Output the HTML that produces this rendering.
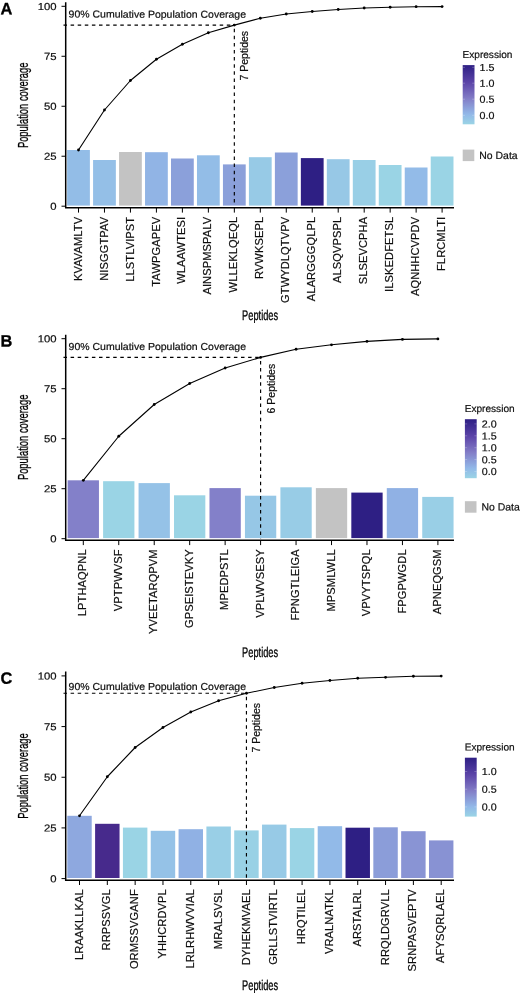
<!DOCTYPE html>
<html lang="en">
<head>
<meta charset="utf-8">
<title>Population coverage of peptides</title>
<style>
html,body{margin:0;padding:0;background:#fff;}
body{width:520px;height:993px;overflow:hidden;}
svg{display:block;}
svg text{font-family:"Liberation Sans",Arial,Helvetica,sans-serif;fill:#0d0d0d;stroke:#0d0d0d;stroke-width:0.2px;}
.tl{font-size:10.1px;}
.xl{font-size:11.1px;letter-spacing:0.1px;}
.an{font-size:10.1px;}
.at{font-size:14px;fill:#000;stroke:#000;stroke-width:0.3px;}
.pl{font-size:16.4px;font-weight:bold;fill:#000;stroke:#000;stroke-width:0.3px;stroke-linejoin:round;}
.lt{font-size:10.1px;}
.ll{font-size:10.2px;}
.nd{font-size:10.45px;}
.axis{fill:none;stroke:#000;stroke-width:1.5;}
.tick{fill:none;stroke:#000;stroke-width:1;}
.dash{fill:none;stroke:#000;stroke-width:1.15;stroke-dasharray:3.5 3.6;}
</style>
</head>
<body>
<svg width="520" height="993" viewBox="0 0 520 993" role="img" aria-label="Population coverage of peptides">
<defs><linearGradient id="cb" x1="0" y1="1" x2="0" y2="0">
<stop offset="0" stop-color="#9ad4e5"/>
<stop offset="0.17" stop-color="#92b8e8"/>
<stop offset="0.44" stop-color="#827cc6"/>
<stop offset="0.71" stop-color="#5b44a8"/>
<stop offset="1" stop-color="#2e1f84"/>
</linearGradient></defs>
<rect x="0" y="0" width="520" height="993" fill="#ffffff"/>
<g class="panel">
<rect x="67.11" y="150.00" width="22.77" height="55.60" fill="#93bde7"/>
<rect x="93.08" y="160.00" width="22.77" height="45.60" fill="#94bfe7"/>
<rect x="119.06" y="152.00" width="22.77" height="53.60" fill="#c3c3c3"/>
<rect x="145.03" y="152.20" width="22.77" height="53.40" fill="#91b4e5"/>
<rect x="171.00" y="158.50" width="22.77" height="47.10" fill="#8ba0da"/>
<rect x="196.97" y="155.30" width="22.77" height="50.30" fill="#93bde7"/>
<rect x="222.94" y="164.40" width="22.77" height="41.20" fill="#8ba0da"/>
<rect x="248.91" y="157.20" width="22.77" height="48.40" fill="#97cae6"/>
<rect x="274.88" y="152.50" width="22.77" height="53.10" fill="#8ba0da"/>
<rect x="300.86" y="158.10" width="22.77" height="47.50" fill="#2e1f84"/>
<rect x="326.83" y="159.20" width="22.77" height="46.40" fill="#97c8e6"/>
<rect x="352.80" y="160.00" width="22.77" height="45.60" fill="#99cfe6"/>
<rect x="378.77" y="165.00" width="22.77" height="40.60" fill="#9ad4e5"/>
<rect x="404.74" y="167.50" width="22.77" height="38.10" fill="#93bbe8"/>
<rect x="430.71" y="156.50" width="22.77" height="49.10" fill="#9ad4e5"/>
<path d="M63.5 25.10 H234.33" class="dash"/>
<path d="M234.33 25.10 V206.20" class="dash" stroke-dashoffset="3.5"/>
<polyline points="78.50,150.00 104.47,110.00 130.44,80.50 156.41,59.25 182.39,44.25 208.36,32.75 234.33,25.10 260.30,18.25 286.27,14.00 312.24,11.50 338.21,9.50 364.19,8.00 390.16,7.25 416.13,6.70 442.10,6.60" fill="none" stroke="#000" stroke-width="1.1" stroke-linejoin="round"/>
<circle cx="78.50" cy="150.00" r="1.4" fill="#000"/>
<circle cx="104.47" cy="110.00" r="1.4" fill="#000"/>
<circle cx="130.44" cy="80.50" r="1.4" fill="#000"/>
<circle cx="156.41" cy="59.25" r="1.4" fill="#000"/>
<circle cx="182.39" cy="44.25" r="1.4" fill="#000"/>
<circle cx="208.36" cy="32.75" r="1.4" fill="#000"/>
<circle cx="234.33" cy="25.10" r="1.4" fill="#000"/>
<circle cx="260.30" cy="18.25" r="1.4" fill="#000"/>
<circle cx="286.27" cy="14.00" r="1.4" fill="#000"/>
<circle cx="312.24" cy="11.50" r="1.4" fill="#000"/>
<circle cx="338.21" cy="9.50" r="1.4" fill="#000"/>
<circle cx="364.19" cy="8.00" r="1.4" fill="#000"/>
<circle cx="390.16" cy="7.25" r="1.4" fill="#000"/>
<circle cx="416.13" cy="6.70" r="1.4" fill="#000"/>
<circle cx="442.10" cy="6.60" r="1.4" fill="#000"/>
<path d="M65.7 2.30 V207.80 H454.00" class="axis"/>
<path d="M61.5 206.20 H66" class="tick"/>
<text transform="translate(56.6 209.80) rotate(0.03) scale(1.12 1)" text-anchor="end" class="tl">0</text>
<path d="M61.5 156.22 H66" class="tick"/>
<text transform="translate(56.6 159.82) rotate(0.03) scale(1.12 1)" text-anchor="end" class="tl">25</text>
<path d="M61.5 106.25 H66" class="tick"/>
<text transform="translate(56.6 109.85) rotate(0.03) scale(1.12 1)" text-anchor="end" class="tl">50</text>
<path d="M61.5 56.28 H66" class="tick"/>
<text transform="translate(56.6 59.88) rotate(0.03) scale(1.12 1)" text-anchor="end" class="tl">75</text>
<path d="M61.5 6.30 H66" class="tick"/>
<text transform="translate(56.6 9.90) rotate(0.03) scale(1.12 1)" text-anchor="end" class="tl">100</text>
<path d="M78.50 207.80 V212.60" class="tick"/>
<text transform="translate(81.60 216.80) rotate(-90)" text-anchor="end" class="xl">KVAVAMLTV</text>
<path d="M104.47 207.80 V212.60" class="tick"/>
<text transform="translate(107.57 216.80) rotate(-90)" text-anchor="end" class="xl">NISGGTPAV</text>
<path d="M130.44 207.80 V212.60" class="tick"/>
<text transform="translate(133.54 216.80) rotate(-90)" text-anchor="end" class="xl">LLSTLVIPST</text>
<path d="M156.41 207.80 V212.60" class="tick"/>
<text transform="translate(159.51 216.80) rotate(-90)" text-anchor="end" class="xl">TAWPGAPEV</text>
<path d="M182.39 207.80 V212.60" class="tick"/>
<text transform="translate(185.49 216.80) rotate(-90)" text-anchor="end" class="xl">WLAAWTESI</text>
<path d="M208.36 207.80 V212.60" class="tick"/>
<text transform="translate(211.46 216.80) rotate(-90)" text-anchor="end" class="xl">AINSPMSPALV</text>
<path d="M234.33 207.80 V212.60" class="tick"/>
<text transform="translate(237.43 216.80) rotate(-90)" text-anchor="end" class="xl">WLLEKLQEQL</text>
<path d="M260.30 207.80 V212.60" class="tick"/>
<text transform="translate(263.40 216.80) rotate(-90)" text-anchor="end" class="xl">RVWKSEPL</text>
<path d="M286.27 207.80 V212.60" class="tick"/>
<text transform="translate(289.37 216.80) rotate(-90)" text-anchor="end" class="xl">GTWYDLQTVPV</text>
<path d="M312.24 207.80 V212.60" class="tick"/>
<text transform="translate(315.34 216.80) rotate(-90)" text-anchor="end" class="xl">ALARGGGQLPL</text>
<path d="M338.21 207.80 V212.60" class="tick"/>
<text transform="translate(341.31 216.80) rotate(-90)" text-anchor="end" class="xl">ALSQVPSPL</text>
<path d="M364.19 207.80 V212.60" class="tick"/>
<text transform="translate(367.29 216.80) rotate(-90)" text-anchor="end" class="xl">SLSEVCPHA</text>
<path d="M390.16 207.80 V212.60" class="tick"/>
<text transform="translate(393.26 216.80) rotate(-90)" text-anchor="end" class="xl">ILSKEDFETSL</text>
<path d="M416.13 207.80 V212.60" class="tick"/>
<text transform="translate(419.23 216.80) rotate(-90)" text-anchor="end" class="xl">AQNHHCVPDV</text>
<path d="M442.10 207.80 V212.60" class="tick"/>
<text transform="translate(445.20 216.80) rotate(-90)" text-anchor="end" class="xl">FLRCMLTI</text>
<text transform="translate(68.6 17.60) rotate(0.03) scale(1.04 1)" class="an">90% Cumulative Population Coverage</text>
<text transform="translate(248.13 30.90) rotate(-90) scale(1.04 1)" text-anchor="end" class="an">7 Peptides</text>
<text transform="translate(28.4 105.30) rotate(-90) scale(0.672 1)" text-anchor="middle" class="at">Population coverage</text>
<text transform="translate(260.1 319.75) rotate(0.03) scale(0.66 1)" text-anchor="middle" class="at">Peptides</text>
<text transform="translate(0.4 14.20) rotate(0.03)" class="pl">A</text>
<text transform="translate(462.50 58.10) rotate(0.03)" class="lt">Expression</text>
<rect x="462.70" y="65.10" width="11.8" height="59.20" fill="url(#cb)"/>
<path d="M462.70 67.30 h2.3 M474.50 67.30 h-2.3" stroke="#fff" stroke-width="0.45" stroke-opacity="0.55" fill="none"/>
<text transform="translate(479.60 70.90) rotate(0.03) scale(1.05 1)" class="ll">1.5</text>
<path d="M462.70 83.20 h2.3 M474.50 83.20 h-2.3" stroke="#fff" stroke-width="0.45" stroke-opacity="0.55" fill="none"/>
<text transform="translate(479.60 86.80) rotate(0.03) scale(1.05 1)" class="ll">1.0</text>
<path d="M462.70 99.20 h2.3 M474.50 99.20 h-2.3" stroke="#fff" stroke-width="0.45" stroke-opacity="0.55" fill="none"/>
<text transform="translate(479.60 102.80) rotate(0.03) scale(1.05 1)" class="ll">0.5</text>
<path d="M462.70 115.30 h2.3 M474.50 115.30 h-2.3" stroke="#fff" stroke-width="0.45" stroke-opacity="0.55" fill="none"/>
<text transform="translate(479.60 118.90) rotate(0.03) scale(1.05 1)" class="ll">0.0</text>
<rect x="462.70" y="149.60" width="11.6" height="11.5" fill="#c3c3c3"/>
<text transform="translate(479.30 158.90) rotate(0.03)" class="nd">No Data</text>
</g>
<g class="panel">
<rect x="67.64" y="480.30" width="31.31" height="57.80" fill="#8380c9"/>
<rect x="103.10" y="481.20" width="31.31" height="56.90" fill="#9ad4e5"/>
<rect x="138.56" y="483.10" width="31.31" height="55.00" fill="#95c2e7"/>
<rect x="174.02" y="495.30" width="31.31" height="42.80" fill="#9ad4e5"/>
<rect x="209.48" y="488.10" width="31.31" height="50.00" fill="#8380c9"/>
<rect x="244.94" y="495.70" width="31.31" height="42.40" fill="#96c7e6"/>
<rect x="280.40" y="487.30" width="31.31" height="50.80" fill="#98cce6"/>
<rect x="315.86" y="488.10" width="31.31" height="50.00" fill="#c3c3c3"/>
<rect x="351.32" y="492.60" width="31.31" height="45.50" fill="#2e1f84"/>
<rect x="386.78" y="488.10" width="31.31" height="50.00" fill="#90b1e4"/>
<rect x="422.24" y="496.90" width="31.31" height="41.20" fill="#99cfe6"/>
<path d="M63.5 357.40 H260.60" class="dash"/>
<path d="M260.60 357.40 V538.70" class="dash" stroke-dashoffset="3.5"/>
<polyline points="83.30,480.30 118.76,436.25 154.22,404.50 189.68,383.50 225.14,368.00 260.60,357.40 296.06,349.25 331.52,344.80 366.98,341.40 402.44,339.40 437.90,338.90" fill="none" stroke="#000" stroke-width="1.1" stroke-linejoin="round"/>
<circle cx="83.30" cy="480.30" r="1.4" fill="#000"/>
<circle cx="118.76" cy="436.25" r="1.4" fill="#000"/>
<circle cx="154.22" cy="404.50" r="1.4" fill="#000"/>
<circle cx="189.68" cy="383.50" r="1.4" fill="#000"/>
<circle cx="225.14" cy="368.00" r="1.4" fill="#000"/>
<circle cx="260.60" cy="357.40" r="1.4" fill="#000"/>
<circle cx="296.06" cy="349.25" r="1.4" fill="#000"/>
<circle cx="331.52" cy="344.80" r="1.4" fill="#000"/>
<circle cx="366.98" cy="341.40" r="1.4" fill="#000"/>
<circle cx="402.44" cy="339.40" r="1.4" fill="#000"/>
<circle cx="437.90" cy="338.90" r="1.4" fill="#000"/>
<path d="M65.7 334.80 V540.30 H454.00" class="axis"/>
<path d="M61.5 538.70 H66" class="tick"/>
<text transform="translate(56.6 542.30) rotate(0.03) scale(1.12 1)" text-anchor="end" class="tl">0</text>
<path d="M61.5 488.70 H66" class="tick"/>
<text transform="translate(56.6 492.30) rotate(0.03) scale(1.12 1)" text-anchor="end" class="tl">25</text>
<path d="M61.5 438.70 H66" class="tick"/>
<text transform="translate(56.6 442.30) rotate(0.03) scale(1.12 1)" text-anchor="end" class="tl">50</text>
<path d="M61.5 388.70 H66" class="tick"/>
<text transform="translate(56.6 392.30) rotate(0.03) scale(1.12 1)" text-anchor="end" class="tl">75</text>
<path d="M61.5 338.70 H66" class="tick"/>
<text transform="translate(56.6 342.30) rotate(0.03) scale(1.12 1)" text-anchor="end" class="tl">100</text>
<path d="M83.30 540.30 V545.10" class="tick"/>
<text transform="translate(86.40 549.30) rotate(-90)" text-anchor="end" class="xl">LPTHAQPNL</text>
<path d="M118.76 540.30 V545.10" class="tick"/>
<text transform="translate(121.86 549.30) rotate(-90)" text-anchor="end" class="xl">VPTPWVSF</text>
<path d="M154.22 540.30 V545.10" class="tick"/>
<text transform="translate(157.32 549.30) rotate(-90)" text-anchor="end" class="xl">YVEETARQPVM</text>
<path d="M189.68 540.30 V545.10" class="tick"/>
<text transform="translate(192.78 549.30) rotate(-90)" text-anchor="end" class="xl">GPSEISTEVKY</text>
<path d="M225.14 540.30 V545.10" class="tick"/>
<text transform="translate(228.24 549.30) rotate(-90)" text-anchor="end" class="xl">MPEDPSTL</text>
<path d="M260.60 540.30 V545.10" class="tick"/>
<text transform="translate(263.70 549.30) rotate(-90)" text-anchor="end" class="xl">VPLWVSESY</text>
<path d="M296.06 540.30 V545.10" class="tick"/>
<text transform="translate(299.16 549.30) rotate(-90)" text-anchor="end" class="xl">FPNGTLEIGA</text>
<path d="M331.52 540.30 V545.10" class="tick"/>
<text transform="translate(334.62 549.30) rotate(-90)" text-anchor="end" class="xl">MPSMLWLL</text>
<path d="M366.98 540.30 V545.10" class="tick"/>
<text transform="translate(370.08 549.30) rotate(-90)" text-anchor="end" class="xl">VPVYTSPQL</text>
<path d="M402.44 540.30 V545.10" class="tick"/>
<text transform="translate(405.54 549.30) rotate(-90)" text-anchor="end" class="xl">FPGPWGDL</text>
<path d="M437.90 540.30 V545.10" class="tick"/>
<text transform="translate(441.00 549.30) rotate(-90)" text-anchor="end" class="xl">APNEQGSM</text>
<text transform="translate(68.6 350.00) rotate(0.03) scale(1.04 1)" class="an">90% Cumulative Population Coverage</text>
<text transform="translate(274.90 363.80) rotate(-90) scale(1.04 1)" text-anchor="end" class="an">6 Peptides</text>
<text transform="translate(28.4 437.30) rotate(-90) scale(0.672 1)" text-anchor="middle" class="at">Population coverage</text>
<text transform="translate(260.1 656.75) rotate(0.03) scale(0.66 1)" text-anchor="middle" class="at">Peptides</text>
<text transform="translate(0.4 346.60) rotate(0.03)" class="pl">B</text>
<text transform="translate(464.70 411.90) rotate(0.03)" class="lt">Expression</text>
<rect x="464.90" y="419.20" width="11.8" height="59.00" fill="url(#cb)"/>
<path d="M464.90 423.90 h2.3 M476.70 423.90 h-2.3" stroke="#fff" stroke-width="0.45" stroke-opacity="0.55" fill="none"/>
<text transform="translate(481.80 427.50) rotate(0.03) scale(1.05 1)" class="ll">2.0</text>
<path d="M464.90 435.80 h2.3 M476.70 435.80 h-2.3" stroke="#fff" stroke-width="0.45" stroke-opacity="0.55" fill="none"/>
<text transform="translate(481.80 439.40) rotate(0.03) scale(1.05 1)" class="ll">1.5</text>
<path d="M464.90 447.70 h2.3 M476.70 447.70 h-2.3" stroke="#fff" stroke-width="0.45" stroke-opacity="0.55" fill="none"/>
<text transform="translate(481.80 451.30) rotate(0.03) scale(1.05 1)" class="ll">1.0</text>
<path d="M464.90 459.60 h2.3 M476.70 459.60 h-2.3" stroke="#fff" stroke-width="0.45" stroke-opacity="0.55" fill="none"/>
<text transform="translate(481.80 463.20) rotate(0.03) scale(1.05 1)" class="ll">0.5</text>
<path d="M464.90 471.50 h2.3 M476.70 471.50 h-2.3" stroke="#fff" stroke-width="0.45" stroke-opacity="0.55" fill="none"/>
<text transform="translate(481.80 475.10) rotate(0.03) scale(1.05 1)" class="ll">0.0</text>
<rect x="464.90" y="501.20" width="11.6" height="11.5" fill="#c3c3c3"/>
<text transform="translate(481.50 510.50) rotate(0.03)" class="nd">No Data</text>
</g>
<g class="panel">
<rect x="67.28" y="815.80" width="24.44" height="62.20" fill="#8ea8df"/>
<rect x="95.10" y="823.80" width="24.44" height="54.20" fill="#472a8c"/>
<rect x="122.93" y="827.60" width="24.44" height="50.40" fill="#9ad4e5"/>
<rect x="150.75" y="830.80" width="24.44" height="47.20" fill="#95c2e7"/>
<rect x="178.57" y="829.20" width="24.44" height="48.80" fill="#90b1e4"/>
<rect x="206.40" y="826.50" width="24.44" height="51.50" fill="#99cfe6"/>
<rect x="234.22" y="830.40" width="24.44" height="47.60" fill="#99d1e5"/>
<rect x="262.04" y="824.60" width="24.44" height="53.40" fill="#97cae6"/>
<rect x="289.86" y="828.10" width="24.44" height="49.90" fill="#9ad4e5"/>
<rect x="317.69" y="826.20" width="24.44" height="51.80" fill="#92bae8"/>
<rect x="345.51" y="827.70" width="24.44" height="50.30" fill="#2e1f84"/>
<rect x="373.33" y="827.30" width="24.44" height="50.70" fill="#8b9dd9"/>
<rect x="401.16" y="831.20" width="24.44" height="46.80" fill="#8994d4"/>
<rect x="428.98" y="840.40" width="24.44" height="37.60" fill="#8892d3"/>
<path d="M63.5 693.25 H246.44" class="dash"/>
<path d="M246.44 693.25 V878.60" class="dash" stroke-dashoffset="3.5"/>
<polyline points="79.50,815.80 107.32,776.75 135.15,747.50 162.97,727.50 190.79,712.00 218.62,700.75 246.44,693.25 274.26,687.50 302.08,683.25 329.91,680.50 357.73,678.25 385.55,677.30 413.38,676.25 441.20,676.10" fill="none" stroke="#000" stroke-width="1.1" stroke-linejoin="round"/>
<circle cx="79.50" cy="815.80" r="1.4" fill="#000"/>
<circle cx="107.32" cy="776.75" r="1.4" fill="#000"/>
<circle cx="135.15" cy="747.50" r="1.4" fill="#000"/>
<circle cx="162.97" cy="727.50" r="1.4" fill="#000"/>
<circle cx="190.79" cy="712.00" r="1.4" fill="#000"/>
<circle cx="218.62" cy="700.75" r="1.4" fill="#000"/>
<circle cx="246.44" cy="693.25" r="1.4" fill="#000"/>
<circle cx="274.26" cy="687.50" r="1.4" fill="#000"/>
<circle cx="302.08" cy="683.25" r="1.4" fill="#000"/>
<circle cx="329.91" cy="680.50" r="1.4" fill="#000"/>
<circle cx="357.73" cy="678.25" r="1.4" fill="#000"/>
<circle cx="385.55" cy="677.30" r="1.4" fill="#000"/>
<circle cx="413.38" cy="676.25" r="1.4" fill="#000"/>
<circle cx="441.20" cy="676.10" r="1.4" fill="#000"/>
<path d="M65.7 671.60 V880.20 H454.00" class="axis"/>
<path d="M61.5 878.60 H66" class="tick"/>
<text transform="translate(56.6 882.20) rotate(0.03) scale(1.12 1)" text-anchor="end" class="tl">0</text>
<path d="M61.5 827.92 H66" class="tick"/>
<text transform="translate(56.6 831.52) rotate(0.03) scale(1.12 1)" text-anchor="end" class="tl">25</text>
<path d="M61.5 777.25 H66" class="tick"/>
<text transform="translate(56.6 780.85) rotate(0.03) scale(1.12 1)" text-anchor="end" class="tl">50</text>
<path d="M61.5 726.58 H66" class="tick"/>
<text transform="translate(56.6 730.18) rotate(0.03) scale(1.12 1)" text-anchor="end" class="tl">75</text>
<path d="M61.5 675.90 H66" class="tick"/>
<text transform="translate(56.6 679.50) rotate(0.03) scale(1.12 1)" text-anchor="end" class="tl">100</text>
<path d="M79.50 880.20 V885.00" class="tick"/>
<text transform="translate(82.60 889.20) rotate(-90)" text-anchor="end" class="xl">LRAAKLLKAL</text>
<path d="M107.32 880.20 V885.00" class="tick"/>
<text transform="translate(110.42 889.20) rotate(-90)" text-anchor="end" class="xl">RRPSSVGL</text>
<path d="M135.15 880.20 V885.00" class="tick"/>
<text transform="translate(138.25 889.20) rotate(-90)" text-anchor="end" class="xl">ORMSSVGANF</text>
<path d="M162.97 880.20 V885.00" class="tick"/>
<text transform="translate(166.07 889.20) rotate(-90)" text-anchor="end" class="xl">YHHCRDVPL</text>
<path d="M190.79 880.20 V885.00" class="tick"/>
<text transform="translate(193.89 889.20) rotate(-90)" text-anchor="end" class="xl">LRLRHWVVIAL</text>
<path d="M218.62 880.20 V885.00" class="tick"/>
<text transform="translate(221.72 889.20) rotate(-90)" text-anchor="end" class="xl">MRALSVSL</text>
<path d="M246.44 880.20 V885.00" class="tick"/>
<text transform="translate(249.54 889.20) rotate(-90)" text-anchor="end" class="xl">DYHEKMVAEL</text>
<path d="M274.26 880.20 V885.00" class="tick"/>
<text transform="translate(277.36 889.20) rotate(-90)" text-anchor="end" class="xl">GRLLSTVIRTL</text>
<path d="M302.08 880.20 V885.00" class="tick"/>
<text transform="translate(305.18 889.20) rotate(-90)" text-anchor="end" class="xl">HRQTILEL</text>
<path d="M329.91 880.20 V885.00" class="tick"/>
<text transform="translate(333.01 889.20) rotate(-90)" text-anchor="end" class="xl">VRALNATKL</text>
<path d="M357.73 880.20 V885.00" class="tick"/>
<text transform="translate(360.83 889.20) rotate(-90)" text-anchor="end" class="xl">ARSTALRL</text>
<path d="M385.55 880.20 V885.00" class="tick"/>
<text transform="translate(388.65 889.20) rotate(-90)" text-anchor="end" class="xl">RRQLDGRVLL</text>
<path d="M413.38 880.20 V885.00" class="tick"/>
<text transform="translate(416.48 889.20) rotate(-90)" text-anchor="end" class="xl">SRNPASVEPTV</text>
<path d="M441.20 880.20 V885.00" class="tick"/>
<text transform="translate(444.30 889.20) rotate(-90)" text-anchor="end" class="xl">AFYSQRLAEL</text>
<text transform="translate(68.6 690.00) rotate(0.03) scale(1.04 1)" class="an">90% Cumulative Population Coverage</text>
<text transform="translate(260.44 703.00) rotate(-90) scale(1.04 1)" text-anchor="end" class="an">7 Peptides</text>
<text transform="translate(28.4 776.00) rotate(-90) scale(0.672 1)" text-anchor="middle" class="at">Population coverage</text>
<text transform="translate(260.1 989.60) rotate(0.03) scale(0.66 1)" text-anchor="middle" class="at">Peptides</text>
<text transform="translate(0.4 683.80) rotate(0.03)" class="pl">C</text>
<text transform="translate(464.70 750.50) rotate(0.03)" class="lt">Expression</text>
<rect x="464.90" y="757.70" width="11.8" height="58.90" fill="url(#cb)"/>
<path d="M464.90 771.50 h2.3 M476.70 771.50 h-2.3" stroke="#fff" stroke-width="0.45" stroke-opacity="0.55" fill="none"/>
<text transform="translate(481.80 775.10) rotate(0.03) scale(1.05 1)" class="ll">1.0</text>
<path d="M464.90 789.20 h2.3 M476.70 789.20 h-2.3" stroke="#fff" stroke-width="0.45" stroke-opacity="0.55" fill="none"/>
<text transform="translate(481.80 792.80) rotate(0.03) scale(1.05 1)" class="ll">0.5</text>
<path d="M464.90 806.90 h2.3 M476.70 806.90 h-2.3" stroke="#fff" stroke-width="0.45" stroke-opacity="0.55" fill="none"/>
<text transform="translate(481.80 810.50) rotate(0.03) scale(1.05 1)" class="ll">0.0</text>
</g>
</svg>
</body>
</html>
